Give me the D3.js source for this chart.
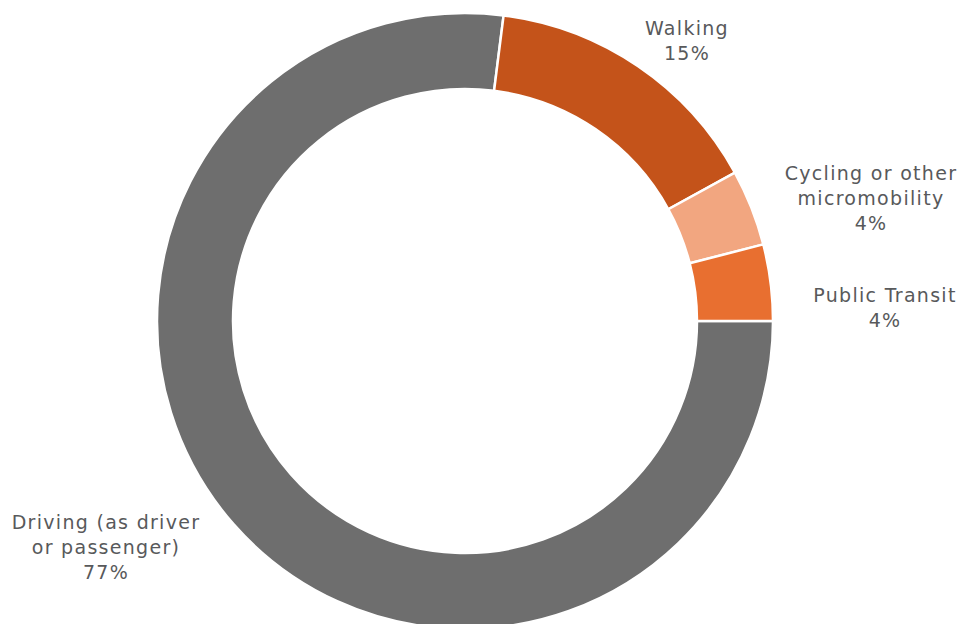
<!DOCTYPE html>
<html>
<head>
<meta charset="utf-8">
<script src="https://cdn.jsdelivr.net/npm/d3@7"></script>
<style>
  html, body { margin: 0; padding: 0; background: #fff; }
  svg { display: block; }
  .lbl { font-family: "DejaVu Sans", sans-serif; font-size: 19px; letter-spacing: 1.3px; fill: #58595b; text-anchor: middle; }
</style>
</head>
<body>
<svg id="chart" width="962" height="624"></svg>
<script>
// Commute mode shares (percent)
const modes = ["Driving (as driver or passenger)", "Walking", "Cycling or other micromobility", "Public Transit"];
const shares = [77, 15, 4, 4];
const colors = ["#6e6e6e", "#c4531a", "#f2a680", "#e86f30"];
// Label lines drawn for each mode
const labelLines = [
  ["Driving (as driver", "or passenger)", "77%"],
  ["Walking", "15%"],
  ["Cycling or other", "micromobility", "4%"],
  ["Public Transit", "4%"]
];
// Label anchor positions (centre x, first baseline y)
const labelPos = [[106, 529], [687, 35], [871, 180], [885, 302]];

const svg = d3.select("#chart");
const cx = 465, cy = 321, outerR = 308, innerR = 232;

const data = modes.map((m, i) => ({ mode: m, value: shares[i], color: colors[i], lines: labelLines[i], pos: labelPos[i] }));

const pie = d3.pie()
  .value(d => d.value)
  .sort(null)
  .startAngle(Math.PI / 2)
  .endAngle(Math.PI / 2 + 2 * Math.PI);

const arc = d3.arc().innerRadius(innerR).outerRadius(outerR);

const g = svg.append("g").attr("transform", `translate(${cx},${cy})`);
g.selectAll("path")
  .data(pie(data))
  .join("path")
  .attr("d", arc)
  .attr("fill", d => d.data.color)
  .attr("stroke", "#fff")
  .attr("stroke-width", 2.5);

const lineH = 25;
svg.selectAll("text.lbl")
  .data(data)
  .join("text")
  .attr("class", "lbl")
  .attr("x", d => d.pos[0])
  .attr("y", d => d.pos[1])
  .selectAll("tspan")
  .data(d => d.lines.map(l => ({ text: l, x: d.pos[0] })))
  .join("tspan")
  .attr("x", t => t.x)
  .attr("dy", (t, i) => i === 0 ? 0 : lineH)
  .text(t => t.text);
</script>
</body>
</html>
